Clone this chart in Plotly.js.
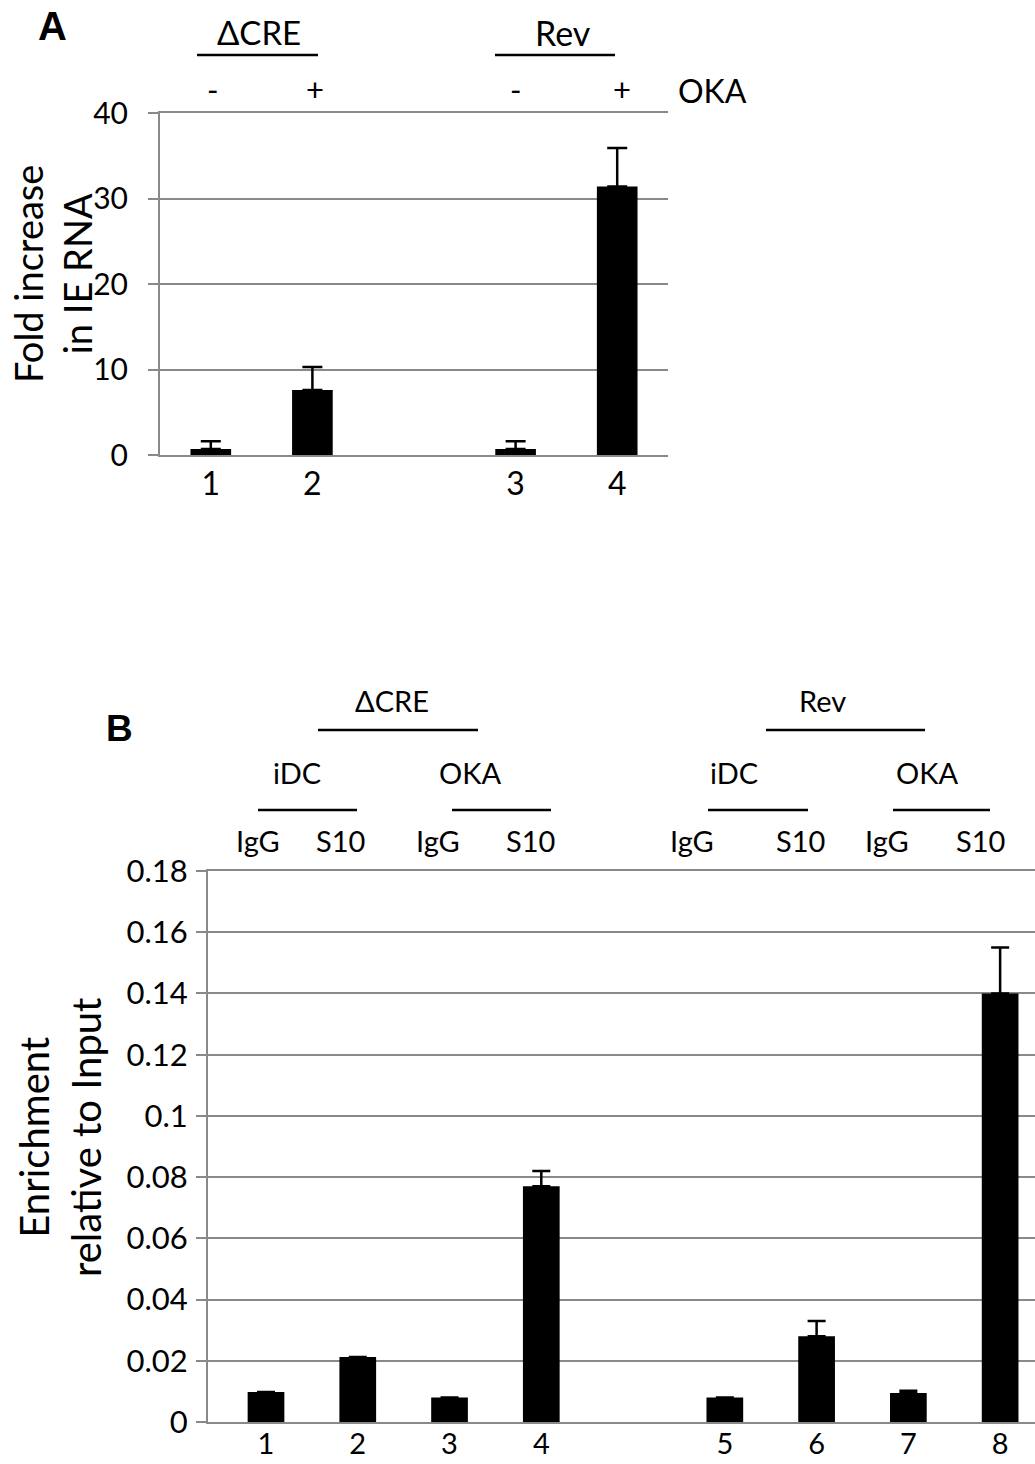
<!DOCTYPE html>
<html>
<head>
<meta charset="utf-8">
<script src="https://cdn.plot.ly/plotly-3.0.1.min.js"></script>
<style>
  html, body { margin: 0; padding: 0; background: #fff; }
  #chart { width: 1035px; height: 1464px; }
</style>
</head>
<body>
<div id="chart"></div>
<script>
// ---------- Panel A data ----------
const catA = [0, 1, 3, 4];
const labelsA = ['1', '2', '3', '4'];
const foldIncrease = [0.7, 7.6, 0.7, 31.4];
const foldErrPlus = [0.9, 2.7, 0.9, 4.5];
const groupsA = ['\u0394CRE', 'Rev'];
const okaSigns = ['-', '+', '-', '+'];

// ---------- Panel B data ----------
const catB = [0, 1, 2, 3, 5, 6, 7, 8];
const labelsB = ['1', '2', '3', '4', '5', '6', '7', '8'];
const enrichment = [0.0098, 0.0212, 0.0080, 0.0770, 0.0080, 0.0280, 0.0095, 0.1400];
const enrichErrPlus = [0, 0, 0, 0.0050, 0, 0.0050, 0.0007, 0.0150];
const groupsB = ['\u0394CRE', 'Rev'];
const treatB = ['iDC', 'OKA', 'iDC', 'OKA'];
const antibodyB = ['IgG', 'S10', 'IgG', 'S10', 'IgG', 'S10', 'IgG', 'S10'];

// ---------- helpers (page pixel -> paper fraction) ----------
const W = 1035, H = 1464;
const px = x => x / W;
const py = y => 1 - y / H;
const FONT = 'Lato, "Open Sans", sans-serif';
const GRID = '#898989';

const zeros = arr => arr.map(() => 0);

const traces = [
  {
    type: 'bar', x: catA, y: foldIncrease, xaxis: 'x', yaxis: 'y',
    marker: { color: '#000', line: { width: 0 } },
    error_y: { type: 'data', symmetric: false, array: foldErrPlus, arrayminus: zeros(foldErrPlus),
               color: '#000', thickness: 2.5, width: 10 },
    hoverinfo: 'skip'
  },
  {
    type: 'bar', x: catB, y: enrichment, xaxis: 'x2', yaxis: 'y2',
    marker: { color: '#000', line: { width: 0 } },
    error_y: { type: 'data', symmetric: false, array: enrichErrPlus, arrayminus: zeros(enrichErrPlus),
               color: '#000', thickness: 2.5, width: 9 },
    hoverinfo: 'skip'
  }
];

const yCommon = {
  showgrid: true, gridcolor: GRID, gridwidth: 2,
  showline: true, linecolor: GRID, linewidth: 2,
  ticks: 'outside', ticklen: 10, tickcolor: GRID, tickwidth: 2,
  zeroline: false, fixedrange: true
};
const xCommon = {
  showgrid: false, zeroline: false, showline: true, mirror: true,
  linecolor: GRID, linewidth: 2, ticks: '', fixedrange: true
};

const annotations = [];
const shapes = [];
function label(text, x, y, size, extra) {
  annotations.push(Object.assign({
    text: text, x: px(x), y: py(y), xref: 'paper', yref: 'paper',
    xanchor: 'center', yanchor: 'middle', showarrow: false,
    font: { family: FONT, size: size, color: '#000' }
  }, extra || {}));
}
function hline(x0, x1, y) {
  shapes.push({ type: 'line', xref: 'paper', yref: 'paper',
    x0: px(x0), x1: px(x1), y0: py(y), y1: py(y), line: { color: '#000', width: 2.5 } });
}

// Panel A decorations
label('<b>A</b>', 52, 26, 40, { font: { family: '"Liberation Sans", Arial, sans-serif', size: 40, color: '#000' } });
label(groupsA[0], 259, 32, 33);
label(groupsA[1], 563, 32, 34);
hline(197, 318, 55);
hline(495, 615, 55);
[213, 315, 516, 622].forEach((x, i) => label(okaSigns[i], x, 89, 31));
label('OKA', 712, 90, 32);
label('Fold increase<br>in IE RNA', 52, 274, 38, { textangle: -90 });

// Panel B decorations
label('<b>B</b>', 119, 728, 37, { font: { family: '"Liberation Sans", Arial, sans-serif', size: 37, color: '#000' } });
label(groupsB[0], 392, 700, 29);
label(groupsB[1], 822, 700, 29);
hline(318, 478, 730);
hline(766, 925, 730);
[297, 470, 734, 927].forEach((x, i) => label(treatB[i], x, 772, 29));
hline(258, 357, 810);
hline(452, 551, 810);
hline(708, 808, 810);
hline(893, 990, 810);
[258, 340, 438, 530, 692, 800, 887, 980].forEach((x, i) => label(antibodyB[i], x, 840, 29));
label('Enrichment<br>relative to Input', 60, 1138, 40, { textangle: -90 });

const layout = {
  width: W, height: H,
  margin: { l: 0, r: 0, t: 0, b: 0 },
  paper_bgcolor: '#fff', plot_bgcolor: '#fff',
  showlegend: false, bargap: 0.6,
  font: { family: FONT, color: '#000' },
  xaxis: Object.assign({}, xCommon, {
    domain: [px(160), px(668)], range: [-0.5, 4.5], anchor: 'y',
    tickmode: 'array', tickvals: catA, ticktext: labelsA,
    tickfont: { family: FONT, size: 32, color: '#000' }
  }),
  yaxis: Object.assign({}, yCommon, {
    domain: [py(455), py(113)], range: [0, 40], dtick: 10, tick0: 0, anchor: 'x',
    ticklabelstandoff: 14,
    tickfont: { family: FONT, size: 30, color: '#000' }
  }),
  xaxis2: Object.assign({}, xCommon, {
    domain: [px(208), 1], range: [-0.632, 8.38], anchor: 'y2',
    tickmode: 'array', tickvals: catB, ticktext: labelsB,
    ticklabelstandoff: -5,
    tickfont: { family: FONT, size: 29, color: '#000' }
  }),
  yaxis2: Object.assign({}, yCommon, {
    domain: [py(1422), py(871)], range: [0, 0.18], dtick: 0.02, tick0: 0, anchor: 'x2',
    ticklabelstandoff: 2,
    tickfont: { family: FONT, size: 31, color: '#000' }
  }),
  annotations: annotations,
  shapes: shapes
};

Plotly.newPlot('chart', traces, layout, { staticPlot: true, displayModeBar: false });
</script>
</body>
</html>
